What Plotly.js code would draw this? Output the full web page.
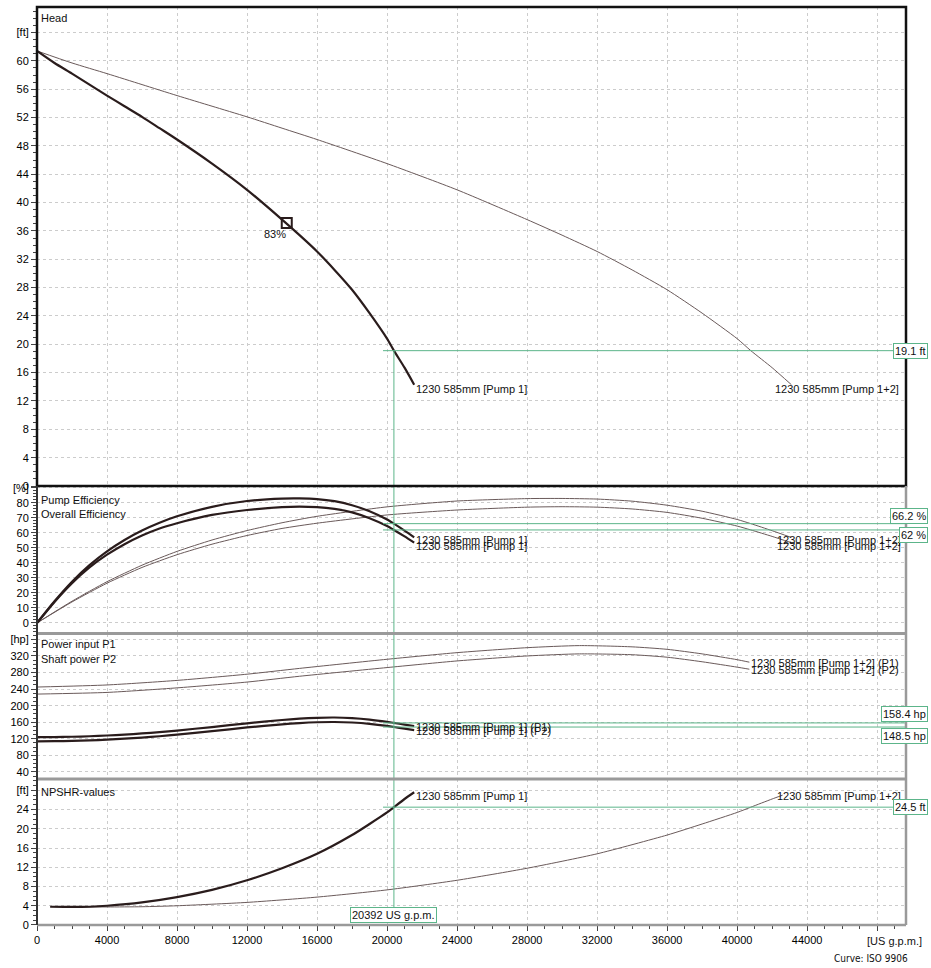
<!DOCTYPE html>
<html>
<head>
<meta charset="utf-8">
<script src="https://cdn.plot.ly/plotly-3.0.1.min.js"></script>
<style>html,body{margin:0;padding:0;background:#fff;}#chart{width:931px;height:968px;}</style>
</head>
<body>
<div id="chart"></div>
<script>
// ---------- data ----------
// Pump 1 (single pump)
const flow1 = [0, 1000, 2000, 3000, 4000, 5000, 6000, 7000, 8000, 10000, 12000, 14000, 15000, 16000, 17000, 18000, 19000, 20000, 20392, 21000, 21550];
const head1 = [61.4, 59.7, 58.2, 56.65, 55.1, 53.6, 52.1, 50.5, 48.9, 45.5, 41.8, 37.6, 35.4, 33.1, 30.5, 27.7, 24.4, 20.8, 19.1, 16.7, 14.3];
const pumpEff1 = [0, 14.5, 27.5, 38.5, 47.7, 55.3, 61.6, 66.8, 71.1, 77.4, 81.3, 82.9, 83, 82.6, 81.2, 78.5, 74.5, 69, 66.2, 61.5, 57];
const overallEff1 = [0, 14, 26.5, 37, 45.5, 52.5, 58.3, 63, 66.5, 72, 75.3, 77.2, 77.5, 77.2, 76, 73.7, 69.8, 64.6, 62, 57.7, 53.5];
const powerP1_1 = [124, 124.3, 125, 126.2, 128, 130.3, 133, 136.3, 140, 148.5, 157.5, 165.5, 168.7, 170.8, 171.5, 170, 166.5, 161, 158.4, 154.5, 151];
const powerP2_1 = [114, 114.3, 115, 116.2, 118, 120.3, 123, 126.3, 130, 138.5, 147.5, 155, 158, 160, 160.6, 159.4, 156.3, 151.2, 148.5, 144.6, 141.2];
const npshFlow1 = [750, 2000, 3000, 4000, 6000, 8000, 10000, 12000, 14000, 16000, 18000, 19000, 20000, 20392, 21000, 21550];
const npsh1 = [3.8, 3.75, 3.8, 4.0, 4.7, 5.8, 7.3, 9.3, 11.8, 14.8, 18.7, 21.0, 23.4, 24.5, 26.2, 27.6];

// Pump 1+2 (two pumps in parallel)
const flow12 = [0, 2000, 4000, 6000, 8000, 10000, 12000, 14000, 16000, 20000, 24000, 28000, 30000, 32000, 34000, 36000, 38000, 40000, 40784, 42000, 43100];
const head12 = [61.4, 59.7, 58.2, 56.65, 55.1, 53.6, 52.1, 50.5, 48.9, 45.5, 41.8, 37.6, 35.4, 33.1, 30.5, 27.7, 24.4, 20.8, 19.1, 16.7, 14.3];
const pumpEff12 = [0, 14.5, 27.5, 38.5, 47.7, 55.3, 61.6, 66.8, 71.1, 77.4, 81.3, 82.9, 83, 82.6, 81.2, 78.5, 74.5, 69, 66.2, 61.5, 57];
const overallEff12 = [0, 14, 26.5, 37, 45.5, 52.5, 58.3, 63, 66.5, 72, 75.3, 77.2, 77.5, 77.2, 76, 73.7, 69.8, 64.6, 62, 57.7, 53.5];
const powerFlow12 = [0, 4000, 8000, 12000, 15000, 20000, 24000, 28000, 31000, 34000, 36000, 38000, 40000, 40700];
const powerP1_12 = [245, 250, 261, 276, 290, 312, 328, 340, 345, 342, 336, 325, 311, 305];
const powerP2_12 = [228, 232, 243, 257, 271, 292, 308, 320, 325, 323, 317, 306, 293, 288];
const npshFlow12 = [1500, 4000, 6000, 8000, 12000, 16000, 20000, 24000, 28000, 32000, 36000, 38000, 40000, 40784, 42000, 42600];
const npsh12 = [3.8, 3.75, 3.8, 4.0, 4.7, 5.8, 7.3, 9.3, 11.8, 14.8, 18.7, 21.0, 23.4, 24.5, 26.2, 27.0];

// Best efficiency point marker
const bepFlow = [14270];
const bepHead = [37.1];
const bepLabel = '83%';

// Duty point
const dutyFlow = 20392;
const dutyHead = 19.1;
const dutyPumpEff = 66.2;
const dutyOverallEff = 62;
const dutyP1 = 158.4;
const dutyP2 = 148.5;
const dutyNpsh = 24.5;

// Axis ticks
const xTicks = [0, 4000, 8000, 12000, 16000, 20000, 24000, 28000, 32000, 36000, 40000, 44000, 48000];
const xTickText = ['0', '4000', '8000', '12000', '16000', '20000', '24000', '28000', '32000', '36000', '40000', '44000', ''];
const headTicks = [0, 4, 8, 12, 16, 20, 24, 28, 32, 36, 40, 44, 48, 52, 56, 60, 64];
const headTickText = ['0', '4', '8', '12', '16', '20', '24', '28', '32', '36', '40', '44', '48', '52', '56', '60', '[ft]'];
const effTicks = [0, 10, 20, 30, 40, 50, 60, 70, 80, 90];
const effTickText = ['0', '10', '20', '30', '40', '50', '60', '70', '80', '[%]'];
const powerTicks = [40, 80, 120, 160, 200, 240, 280, 320, 360];
const powerTickText = ['40', '80', '120', '160', '200', '240', '280', '320', '[hp]'];
const npshTicks = [0, 4, 8, 12, 16, 20, 24, 28];
const npshTickText = ['0', '4', '8', '12', '16', '20', '24', '[ft]'];

const curveName1 = '1230 585mm [Pump 1]';
const curveName12 = '1230 585mm [Pump 1+2]';

// ---------- styling ----------
const XMAX = 49650;
const THICK = '#2a1c1c', THIN = '#6a5a5a', GREEN = '#5cb58a';
const FONT = 'Liberation Sans, Arial, Helvetica, sans-serif';
const thin = {color: THIN, width: 1, shape: 'spline', smoothing: 0.6};
const thick = {color: THICK, width: 2.2, shape: 'spline', smoothing: 0.6};

function tr(x, y, ax, line) {
  return {x: x, y: y, xaxis: ax[0], yaxis: ax[1], type: 'scatter', mode: 'lines', line: line, hoverinfo: 'skip'};
}

const traces = [
  tr(flow12, head12, ['x', 'y'], thin),
  tr(flow1, head1, ['x', 'y'], thick),
  {x: bepFlow, y: bepHead, xaxis: 'x', yaxis: 'y', type: 'scatter', mode: 'markers',
   marker: {symbol: 'square-open', size: 10, color: THICK, line: {width: 2, color: THICK}}, hoverinfo: 'skip'},
  tr(flow12, pumpEff12, ['x2', 'y2'], thin),
  tr(flow12, overallEff12, ['x2', 'y2'], thin),
  tr(flow1, pumpEff1, ['x2', 'y2'], thick),
  tr(flow1, overallEff1, ['x2', 'y2'], thick),
  tr(powerFlow12, powerP1_12, ['x3', 'y3'], thin),
  tr(powerFlow12, powerP2_12, ['x3', 'y3'], thin),
  tr(flow1, powerP1_1, ['x3', 'y3'], thick),
  tr(flow1, powerP2_1, ['x3', 'y3'], thick),
  tr(npshFlow12, npsh12, ['x4', 'y4'], thin),
  tr(npshFlow1, npsh1, ['x4', 'y4'], thick)
];

const gridStyle = {showgrid: true, gridcolor: '#cccccc', griddash: 'dot', gridwidth: 1, zeroline: false, showline: false};
function xax(anchor, show) {
  return Object.assign({
    range: [0, XMAX], domain: [0, 1], anchor: anchor, tickmode: 'array', tickvals: xTicks, ticktext: xTickText,
    ticks: show ? 'outside' : '', ticklen: 5, tickcolor: '#444', showticklabels: show,
    tickfont: {size: 11, color: '#000', family: FONT},
    minor: show ? {tickmode: 'linear', tick0: 0, dtick: 1000, ticks: 'outside', ticklen: 3, tickcolor: '#444', showgrid: false} : {showgrid: false}
  }, gridStyle, show ? {} : {matches: 'x4'});
}
function yax(domain, range, tv, tt, minorD, anchor) {
  return Object.assign({
    domain: domain, range: range, anchor: anchor, tickmode: 'array', tickvals: tv, ticktext: tt,
    ticks: 'outside', ticklen: 5, tickcolor: '#444', tickfont: {size: 11, color: '#000', family: FONT},
    minor: {tickmode: 'linear', tick0: 0, dtick: minorD, ticks: 'outside', ticklen: 3, tickcolor: '#444', showgrid: false}
  }, gridStyle);
}

const dHead = [0.4782, 1], dEff = [0.3181, 0.4782], dPow = [0.1590, 0.3170], dNpsh = [0, 0.1590];
const rHead = [0, 67.6], rEff = [-6.7, 91.3], rPow = [23, 373], rNpsh = [0, 30.35];

function hline(yref, y, x0) {
  return {type: 'line', xref: 'x', yref: yref, x0: x0, x1: XMAX, y0: y, y1: y, line: {color: GREEN, width: 1}};
}
const lineStart = 19770;
const shapes = [
  // duty point guide lines
  hline('y', dutyHead, lineStart),
  hline('y2', dutyPumpEff, lineStart),
  hline('y2', dutyOverallEff, lineStart),
  hline('y3', dutyP1, lineStart),
  hline('y3', dutyP2, lineStart),
  hline('y4', dutyNpsh, lineStart),
  {type: 'line', xref: 'x', yref: 'y', x0: dutyFlow, x1: dutyFlow, y0: 0, y1: dutyHead, line: {color: GREEN, width: 1}},
  {type: 'line', xref: 'x', yref: 'y2 domain', x0: dutyFlow, x1: dutyFlow, y0: 0, y1: 1, line: {color: GREEN, width: 1}},
  {type: 'line', xref: 'x', yref: 'y3 domain', x0: dutyFlow, x1: dutyFlow, y0: 0, y1: 1, line: {color: GREEN, width: 1}},
  {type: 'line', xref: 'x', yref: 'y4', x0: dutyFlow, x1: dutyFlow, y0: 3.6, y1: rNpsh[1], line: {color: GREEN, width: 1}},
  // frames
  {type: 'rect', xref: 'paper', yref: 'paper', x0: 0, x1: 1, y0: dHead[0], y1: 1, line: {color: '#111', width: 2.5}, layer: 'above'},
  {type: 'line', xref: 'paper', yref: 'paper', x0: 1, x1: 1, y0: 0, y1: dHead[0], line: {color: '#9a9a9a', width: 2.5}, layer: 'above'},
  {type: 'line', xref: 'paper', yref: 'paper', x0: 0, x1: 1, y0: 0, y1: 0, line: {color: '#9a9a9a', width: 2.5}, layer: 'above'},
  {type: 'line', xref: 'paper', yref: 'paper', x0: 0, x1: 1, y0: 0.3176, y1: 0.3176, line: {color: '#9a9a9a', width: 3}, layer: 'above'},
  {type: 'line', xref: 'paper', yref: 'paper', x0: 0, x1: 1, y0: dNpsh[1], y1: dNpsh[1], line: {color: '#9a9a9a', width: 3}, layer: 'above'},
  {type: 'line', xref: 'paper', yref: 'paper', x0: 0, x1: 0, y0: 0, y1: dHead[0], line: {color: '#333', width: 2}, layer: 'above'}
];

function note(text, xref, x, yref, y, opts) {
  return Object.assign({text: text, xref: xref, x: x, yref: yref, y: y, showarrow: false,
    xanchor: 'left', yanchor: 'middle', font: {size: 11, color: '#111', family: FONT}}, opts || {});
}
const boxX = 1.0253;
function box(text, yref, y, yanchor, yshift) {
  return note(text, 'paper', boxX, yref, y, {xanchor: 'right', yanchor: yanchor, yshift: yshift || 0,
    bordercolor: GREEN, borderwidth: 1, borderpad: 1, bgcolor: '#ffffff'});
}

const annotations = [
  // panel titles
  note('Head', 'paper', 0, 'y domain', 1, {xshift: 2, yanchor: 'top', yshift: -3}),
  note('Pump Efficiency', 'paper', 0, 'y2 domain', 1, {xshift: 2, yanchor: 'top', yshift: -6}),
  note('Overall Efficiency', 'paper', 0, 'y2 domain', 1, {xshift: 2, yanchor: 'top', yshift: -20}),
  note('Power input P1', 'paper', 0, 'y3 domain', 1, {xshift: 2, yanchor: 'top', yshift: -2}),
  note('Shaft power P2', 'paper', 0, 'y3 domain', 1, {xshift: 2, yanchor: 'top', yshift: -17}),
  note('NPSHR-values', 'paper', 0, 'y4 domain', 1, {xshift: 2, yanchor: 'top', yshift: -5}),
  // curve labels
  note(curveName1, 'x', flow1[flow1.length - 1], 'y', head1[head1.length - 1], {yshift: -4}),
  note(curveName12, 'x', 42040, 'y', head12[head12.length - 1], {yshift: -4}),
  note(curveName1, 'x', flow1[flow1.length - 1], 'y2', pumpEff1[pumpEff1.length - 1], {yshift: -3}),
  note(curveName1, 'x', flow1[flow1.length - 1], 'y2', overallEff1[overallEff1.length - 1], {yshift: -3}),
  note(curveName12, 'x', 42170, 'y2', pumpEff12[pumpEff12.length - 1], {yshift: -3}),
  note(curveName12, 'x', 42170, 'y2', overallEff12[overallEff12.length - 1], {yshift: -3}),
  note(curveName1 + ' (P1)', 'x', flow1[flow1.length - 1], 'y3', powerP1_1[powerP1_1.length - 1], {yshift: -1}),
  note(curveName1 + ' (P2)', 'x', flow1[flow1.length - 1], 'y3', powerP2_1[powerP2_1.length - 1], {yshift: -1}),
  note(curveName12 + ' (P1)', 'x', powerFlow12[powerFlow12.length - 1], 'y3', powerP1_12[powerP1_12.length - 1], {yshift: -1}),
  note(curveName12 + ' (P2)', 'x', powerFlow12[powerFlow12.length - 1], 'y3', powerP2_12[powerP2_12.length - 1], {yshift: -1}),
  note(curveName1, 'x', npshFlow1[npshFlow1.length - 1], 'y4', npsh1[npsh1.length - 1], {yshift: -4}),
  note(curveName12, 'x', 42170, 'y4', npsh1[npsh1.length - 1], {yshift: -4}),
  // BEP label
  note(bepLabel, 'x', bepFlow[0], 'y', bepHead[0], {xanchor: 'right', yanchor: 'top', xshift: 1, yshift: -3}),
  // duty point boxes
  box(dutyHead + ' ft', 'y', dutyHead, 'middle'),
  box(dutyPumpEff + ' %', 'y2', dutyPumpEff, 'bottom'),
  box(dutyOverallEff + ' %', 'y2', dutyOverallEff, 'top', 3),
  box(dutyP1 + ' hp', 'y3', dutyP1, 'bottom', 1),
  box(dutyP2 + ' hp', 'y3', dutyP2, 'top', -1),
  box(dutyNpsh + ' ft', 'y4', dutyNpsh, 'middle'),
  note(dutyFlow + ' US g.p.m.', 'x', dutyFlow, 'y4', 0, {xanchor: 'center', yanchor: 'bottom', yshift: 2,
    bordercolor: GREEN, borderwidth: 1, borderpad: 1, bgcolor: '#ffffff'}),
  // axis unit and footer
  note('[US g.p.m.]', 'paper', 0.9873, 'paper', 0, {xanchor: 'center', yanchor: 'top', yshift: -8}),
  note('Curve: ISO 9906', 'paper', 1.0046, 'paper', 0, {xanchor: 'right', yanchor: 'top', yshift: -26,
    font: {size: 10, color: '#111', family: 'DejaVu Sans Condensed, DejaVu Sans, sans-serif'}})
];

const layout = {
  width: 931, height: 968,
  margin: {l: 37, r: 25, t: 7, b: 43, pad: 0},
  paper_bgcolor: '#ffffff', plot_bgcolor: '#ffffff',
  showlegend: false,
  font: {family: FONT, size: 11, color: '#111'},
  xaxis: xax('y', false),
  xaxis2: xax('y2', false),
  xaxis3: xax('y3', false),
  xaxis4: xax('y4', true),
  yaxis: yax(dHead, rHead, headTicks, headTickText, 1, 'x'),
  yaxis2: yax(dEff, rEff, effTicks, effTickText, 2, 'x2'),
  yaxis3: yax(dPow, rPow, powerTicks, powerTickText, 10, 'x3'),
  yaxis4: yax(dNpsh, rNpsh, npshTicks, npshTickText, 1, 'x4'),
  shapes: shapes,
  annotations: annotations
};

Plotly.newPlot('chart', traces, layout, {displayModeBar: false, staticPlot: true});
</script>
</body>
</html>
